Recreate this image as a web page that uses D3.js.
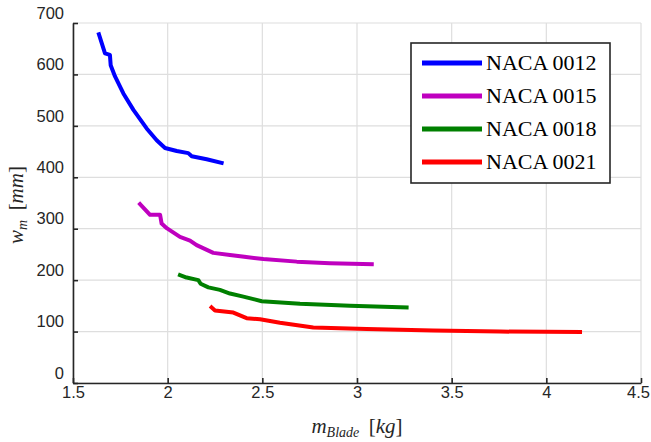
<!DOCTYPE html>
<html>
<head>
<meta charset="utf-8">
<script src="https://cdn.jsdelivr.net/npm/d3@7"></script>
<style>
    body { margin: 0; background: #fff; }
    svg { display: block; }
</style>
</head>
<body>
<div id="chart"></div>
<script>
// airfoil series (x = blade mass in kg, y = w_m in mm)
let naca0012X = [1.637, 1.669, 1.695, 1.699, 1.722, 1.766, 1.819, 1.889, 1.942, 1.986, 2.048, 2.109, 2.127, 2.206, 2.285];
let naca0012Y = [678, 641, 638, 618, 596, 563, 531, 495, 472, 457, 451, 447, 441, 435, 428];

let naca0015X = [1.854, 1.907, 1.960, 1.968, 1.995, 2.065, 2.118, 2.153, 2.241, 2.329, 2.505, 2.682, 2.857, 3.078];
let naca0015Y = [348, 327, 327, 310, 301, 284, 277, 268, 253, 249, 241, 236, 233, 231];

let naca0018X = [2.065, 2.100, 2.162, 2.174, 2.215, 2.276, 2.329, 2.400, 2.497, 2.699, 2.963, 3.262];
let naca0018Y = [210, 205, 200, 193, 186, 181, 174, 168, 159, 154, 150, 147];

let naca0021X = [2.232, 2.250, 2.347, 2.417, 2.488, 2.593, 2.769, 3.051, 3.403, 3.755, 4.178];
let naca0021Y = [147, 141, 137, 126, 124, 117, 108, 105, 102, 100, 99];

let seriesNames = ["NACA 0012", "NACA 0015", "NACA 0018", "NACA 0021"];
let seriesColours = ["#0000ff", "#bf00bf", "#008000", "#ff0000"];

let xTicks = [1.5, 2, 2.5, 3, 3.5, 4, 4.5];
let yTicks = [0, 100, 200, 300, 400, 500, 600, 700];

function zipSeries(xs, ys) {
    return xs.map((x, i) => ({ x: x, y: ys[i] }));
}

let series = [
    zipSeries(naca0012X, naca0012Y),
    zipSeries(naca0015X, naca0015Y),
    zipSeries(naca0018X, naca0018Y),
    zipSeries(naca0021X, naca0021Y)
];

function graph(id) {
    let width = 651, height = 442;
    let axisColour = "#262626";

    let x = d3.scaleLinear().domain([1.5, 4.5]).range([73, 641]);
    let y = d3.scaleLinear().domain([0, 700]).range([383, 23]);

    let svg = d3.select(id)
        .append("svg")
        .attr("width", width)
        .attr("height", height);

    // grid
    svg.append("g")
        .selectAll("line")
        .data(xTicks)
        .enter()
        .append("line")
        .attr("x1", (d) => x(d)).attr("x2", (d) => x(d))
        .attr("y1", y(0)).attr("y2", y(700))
        .attr("stroke", "#dedede")
        .attr("stroke-width", 1.2);

    svg.append("g")
        .selectAll("line")
        .data(yTicks)
        .enter()
        .append("line")
        .attr("x1", x(1.5)).attr("x2", x(4.5))
        .attr("y1", (d) => y(d)).attr("y2", (d) => y(d))
        .attr("stroke", "#dedede")
        .attr("stroke-width", 1.2);

    // axes, ticks point inward like matlab
    let xAxis = d3.axisBottom(x)
        .tickValues(xTicks)
        .tickFormat(d3.format("~g"))
        .tickSizeInner(-5)
        .tickSizeOuter(0)
        .tickPadding(3);

    let yAxis = d3.axisLeft(y)
        .tickValues(yTicks)
        .tickFormat(d3.format("d"))
        .tickSizeInner(-5)
        .tickSizeOuter(0)
        .tickPadding(9);

    let gx = svg.append("g")
        .attr("transform", `translate(0,${y(0)})`)
        .call(xAxis);

    let gy = svg.append("g")
        .attr("transform", `translate(${x(1.5)},0)`)
        .call(yAxis);

    [gx, gy].forEach((g) => {
        g.select(".domain").attr("stroke", axisColour).attr("stroke-width", 1.6);
        g.selectAll(".tick line").attr("stroke", axisColour).attr("stroke-width", 1.6);
        g.selectAll(".tick text")
            .attr("fill", axisColour)
            .style("font-family", "'Liberation Sans', Arial, sans-serif")
            .style("font-size", "16.5px");
    });
    // the y labels sit a little above their ticks
    gy.selectAll(".tick text").attr("y", -10);
    // last x label is nudged in so it stays on the page
    gx.selectAll(".tick text").filter((d) => d === 4.5).attr("dx", -3);

    // data lines
    let line = d3.line()
        .x((d) => x(d.x))
        .y((d) => y(d.y));

    svg.append("g")
        .selectAll("path")
        .data(series)
        .enter()
        .append("path")
        .attr("d", line)
        .attr("fill", "none")
        .attr("stroke", (d, i) => seriesColours[i])
        .attr("stroke-width", 4)
        .attr("stroke-linejoin", "round")
        .attr("stroke-linecap", "square");

    // axis titles (latex style)
    let serif = "'Liberation Serif', 'Times New Roman', serif";

    let xt = svg.append("text")
        .attr("x", 357)
        .attr("y", 433)
        .attr("text-anchor", "middle")
        .attr("fill", axisColour)
        .style("font-family", serif)
        .style("font-size", "21px");
    xt.append("tspan").style("font-style", "italic").text("m");
    xt.append("tspan").style("font-style", "italic").style("font-size", "14px").attr("dy", 4).text("Blade");
    xt.append("tspan").attr("dy", -4).text("\u2009 [");
    xt.append("tspan").style("font-style", "italic").text("kg");
    xt.append("tspan").text("]");

    let yt = svg.append("text")
        .attr("transform", "translate(23,205) rotate(-90)")
        .attr("text-anchor", "middle")
        .attr("fill", axisColour)
        .style("font-family", serif)
        .style("font-size", "21px");
    yt.append("tspan").style("font-style", "italic").text("w");
    yt.append("tspan").style("font-style", "italic").style("font-size", "14px").attr("dy", 4).text("m");
    yt.append("tspan").attr("dy", -4).text("\u2009 [");
    yt.append("tspan").style("font-style", "italic").text("mm");
    yt.append("tspan").text("]");

    // legend
    let legend = svg.append("g").attr("transform", "translate(411,43)");
    legend.append("rect")
        .attr("width", 199)
        .attr("height", 140)
        .attr("fill", "#fff")
        .attr("stroke", axisColour)
        .attr("stroke-width", 1.6);

    let rows = legend.selectAll("g.row")
        .data(seriesNames)
        .enter()
        .append("g")
        .attr("class", "row")
        .attr("transform", (d, i) => `translate(0,${20 + i * 33})`);

    rows.append("line")
        .attr("x1", 11).attr("x2", 71)
        .attr("stroke", (d, i) => seriesColours[i])
        .attr("stroke-width", 5);

    rows.append("text")
        .attr("x", 75)
        .attr("y", 7)
        .attr("fill", "#000")
        .style("font-family", serif)
        .style("font-size", "22px")
        .text((d) => d);
}

graph("#chart");
</script>
</body>
</html>
